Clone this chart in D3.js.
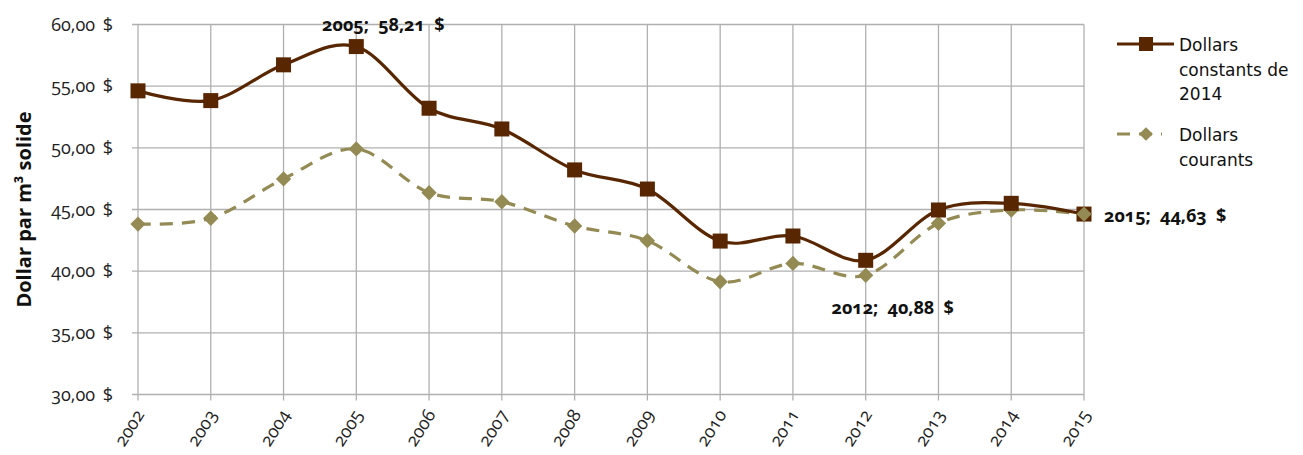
<!DOCTYPE html>
<html>
<head>
<meta charset="utf-8">
<script src="https://cdn.jsdelivr.net/npm/d3@7"></script>
<style>
  body { margin: 0; background: #fff; }
  svg { font-family: "Open Sans", "DejaVu Sans", sans-serif; }
</style>
</head>
<body>
<script>
const years = [2002, 2003, 2004, 2005, 2006, 2007, 2008, 2009, 2010, 2011, 2012, 2013, 2014, 2015];
const constants = [54.62, 53.83, 56.73, 58.21, 53.21, 51.53, 48.21, 46.66, 42.44, 42.85, 40.88, 44.96, 45.5, 44.63];
const courants = [43.82, 44.29, 47.48, 49.91, 46.36, 45.63, 43.66, 42.47, 39.14, 40.63, 39.66, 43.88, 44.96, 44.63];
const yTicks = [30, 35, 40, 45, 50, 55, 60];
const labels = [
  { series: 'constants', year: 2005, text: '2005;  58,21  $' },
  { series: 'constants', year: 2012, text: '2012;  40,88  $' },
  { series: 'constants', year: 2015, text: '2015;  44,63  $' }
];

const width = 1303, height = 455;
const brown = '#582600', olive = '#948a54';
const fmt = v => v.toFixed(2).replace('.', ',') + ' $';

let svg = d3.select('body')
  .append('svg')
  .attr('width', width)
  .attr('height', height);

let x = d3.scalePoint().domain(years).range([138, 1084]);
let y = d3.scaleLinear().domain([30, 60]).range([394.5, 24.5]);

// grid
svg.append('g')
  .selectAll('line')
  .data(yTicks)
  .enter()
  .append('line')
  .attr('x1', 132).attr('x2', 1084)
  .attr('y1', d => y(d)).attr('y2', d => y(d))
  .attr('stroke', '#b0b0b0').attr('stroke-width', 1.3);

svg.append('g')
  .selectAll('line')
  .data(years)
  .enter()
  .append('line')
  .attr('x1', d => x(d)).attr('x2', d => x(d))
  .attr('y1', y(60)).attr('y2', y(30) + 6)
  .attr('stroke', '#b0b0b0').attr('stroke-width', 1.3);

// y tick labels
svg.append('g')
  .selectAll('text')
  .data(yTicks)
  .enter()
  .append('text')
  .attr('x', 113)
  .attr('y', d => y(d) + 6)
  .attr('text-anchor', 'end')
  .attr('font-size', 18)
  .attr('fill', '#222')
  .style('font-feature-settings', '"onum"')
  .style('word-spacing', '3px')
  .text(d => fmt(d));

// x tick labels
svg.append('g')
  .selectAll('text')
  .data(years)
  .enter()
  .append('text')
  .attr('transform', d => `translate(${x(d) + 7},${y(30) + 20}) rotate(-58)`)
  .attr('text-anchor', 'end')
  .attr('font-size', 18)
  .attr('fill', '#222')
  .style('font-feature-settings', '"onum"')
  .text(d => d);

// y axis title
svg.append('text')
  .attr('transform', `translate(31,${y(45)}) rotate(-90)`)
  .attr('text-anchor', 'middle')
  .attr('font-size', 20)
  .attr('font-weight', 'bold')
  .attr('fill', '#111')
  .text('Dollar par m³ solide');

let line = d3.line()
  .x((d, i) => x(years[i]))
  .y(d => y(d))
  .curve(d3.curveCatmullRom.alpha(0));

svg.append('path')
  .datum(courants)
  .attr('d', line)
  .attr('fill', 'none')
  .attr('stroke', olive)
  .attr('stroke-width', 3.2)
  .attr('stroke-dasharray', '13,9');

svg.append('path')
  .datum(constants)
  .attr('d', line)
  .attr('fill', 'none')
  .attr('stroke', brown)
  .attr('stroke-width', 3.2);

const diamond = d3.symbol().type(d3.symbolDiamond2).size(150);

svg.append('g')
  .selectAll('path')
  .data(courants)
  .enter()
  .append('path')
  .attr('d', diamond)
  .attr('transform', (d, i) => `translate(${x(years[i])},${y(d)})`)
  .attr('fill', olive);

svg.append('g')
  .selectAll('rect')
  .data(constants)
  .enter()
  .append('rect')
  .attr('x', (d, i) => x(years[i]) - 7.5)
  .attr('y', d => y(d) - 7.5)
  .attr('width', 15).attr('height', 15)
  .attr('fill', brown);

// courants diamond at 2015 is drawn on top of square
svg.append('path')
  .attr('d', diamond)
  .attr('transform', `translate(${x(2015)},${y(courants[13])})`)
  .attr('fill', olive);

// data labels
const labelPos = {
  2005: { dx: 27, dy: -16, anchor: 'middle' },
  2012: { dx: 27, dy: 54, anchor: 'middle' },
  2015: { dx: 20, dy: 8, anchor: 'start' }
};
svg.append('g')
  .selectAll('text')
  .data(labels)
  .enter()
  .append('text')
  .attr('x', d => x(d.year) + labelPos[d.year].dx)
  .attr('y', d => y(constants[years.indexOf(d.year)]) + labelPos[d.year].dy)
  .attr('text-anchor', d => labelPos[d.year].anchor)
  .attr('font-size', 18)
  .attr('font-weight', 'bold')
  .attr('fill', '#111')
  .style('font-feature-settings', '"onum"')
  .style('white-space', 'pre')
  .text(d => d.text);

// legend
let legend = svg.append('g');

legend.append('line')
  .attr('x1', 1117).attr('x2', 1174).attr('y1', 44).attr('y2', 44)
  .attr('stroke', brown).attr('stroke-width', 3.2);
legend.append('rect')
  .attr('x', 1139).attr('y', 37).attr('width', 14).attr('height', 14)
  .attr('fill', brown);
legend.append('text')
  .attr('x', 1179).attr('y', 51)
  .attr('font-size', 17).attr('fill', '#111')
  .style('font-family', '"DejaVu Sans", sans-serif')
  .selectAll('tspan')
  .data(['Dollars', 'constants de', '2014'])
  .enter()
  .append('tspan')
  .attr('x', 1179)
  .attr('dy', (d, i) => i ? 24.5 : 0)
  .text(d => d);

legend.append('line')
  .attr('x1', 1117).attr('x2', 1162).attr('y1', 134).attr('y2', 134)
  .attr('stroke', olive).attr('stroke-width', 3.2)
  .attr('stroke-dasharray', '13,9');
legend.append('path')
  .attr('d', d3.symbol().type(d3.symbolDiamond2).size(120))
  .attr('transform', 'translate(1146,134)')
  .attr('fill', olive);
legend.append('text')
  .attr('x', 1179).attr('y', 141)
  .attr('font-size', 17).attr('fill', '#111')
  .style('font-family', '"DejaVu Sans", sans-serif')
  .selectAll('tspan')
  .data(['Dollars', 'courants'])
  .enter()
  .append('tspan')
  .attr('x', 1179)
  .attr('dy', (d, i) => i ? 24.5 : 0)
  .text(d => d);
</script>
</body>
</html>
